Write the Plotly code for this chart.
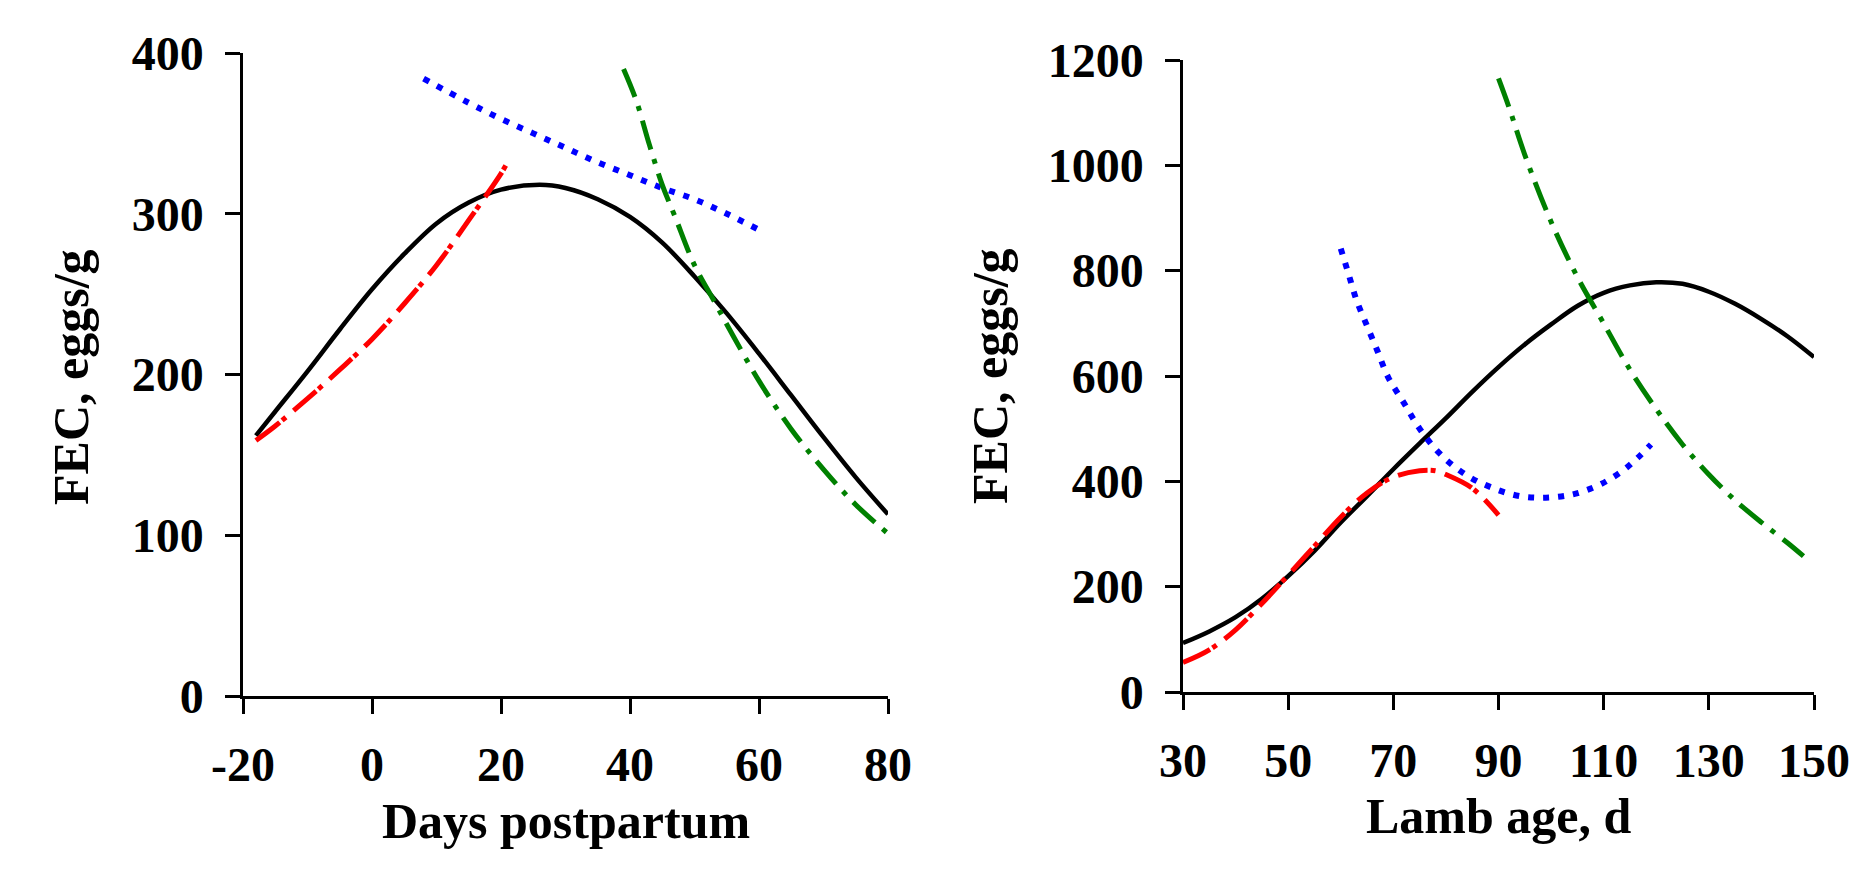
import plotly.graph_objects as go

# ---------------- Left panel: Days postpartum ----------------
left_black_x = [-18, -15, -10, -5, 0, 5, 10, 15, 20, 26, 30, 35, 40, 45, 50, 55, 60, 65, 70, 75, 80]
left_black_y = [162, 177, 202, 228, 253, 275, 294, 307, 315, 318, 316, 309, 298, 282, 261, 238, 213, 187, 161, 136, 113]

left_red_x = [-18, -15, -10, -5, 0, 5, 10, 15, 20, 21]
left_red_y = [159, 168, 185, 203, 222, 244, 268, 296, 325, 332]

left_blue_x = [8, 15, 20, 25, 30, 35, 40, 45, 50, 55, 60]
left_blue_y = [384, 369, 359, 350, 341, 332, 324, 316, 309, 300, 290]

left_green_x = [39, 41, 43, 45, 47, 50, 53, 56, 60, 65, 70, 75, 80]
left_green_y = [390, 370, 343, 318, 298, 268, 246, 224, 196, 166, 141, 119, 101]

left_xticks = [-20, 0, 20, 40, 60, 80]
left_xtext = ["-20", "0", "20", "40", "60", "80"]
left_yticks = [0, 100, 200, 300, 400]

# ---------------- Right panel: Lamb age ----------------
right_black_x = [30, 35, 40, 45, 50, 55, 60, 65, 70, 75, 80, 85, 90, 95, 100, 105, 110, 115, 120, 125, 130, 135, 140, 145, 150]
right_black_y = [93, 115, 142, 177, 220, 268, 322, 372, 423, 472, 520, 570, 617, 660, 698, 733, 758, 772, 778, 775, 760, 737, 708, 675, 636]

right_red_x = [30, 35, 40, 45, 50, 55, 60, 65, 70, 75, 78, 80, 85, 90]
right_red_y = [56, 80, 118, 168, 222, 277, 332, 378, 408, 420, 420, 413, 387, 336]

right_blue_x = [60, 61.5, 63, 65, 67, 69, 72, 75, 79, 84, 89, 94, 99, 104, 108, 111, 114, 116.5, 119]
right_blue_y = [842, 793, 744, 695, 647, 598, 549, 500, 451, 411, 387, 372, 369, 375, 388, 403, 423, 445, 470]

right_green_x = [90, 92, 95, 100, 105, 110, 115, 120, 125, 130, 135, 140, 145, 148]
right_green_y = [1165, 1110, 1020, 893, 788, 700, 612, 537, 470, 413, 364, 322, 283, 258]

right_xticks = [30, 50, 70, 90, 110, 130, 150]
right_yticks = [0, 200, 400, 600, 800, 1000, 1200]

BLACK = "#000000"
RED = "#FF0000"
BLUE = "#0000FF"
GREEN = "#008000"

DASH_RED = "30px,3px,5px,10px"
DASH_BLUE = "6px,9px"
DASH_GREEN = "30px,10px,5px,10px"

fig = go.Figure()


def add(x, y, color, dash, width, xa, ya):
    fig.add_trace(go.Scatter(
        x=x, y=y, mode="lines",
        line=dict(color=color, dash=dash, width=width, shape="spline", smoothing=1.0),
        xaxis=xa, yaxis=ya, showlegend=False, hoverinfo="skip"))


add(left_black_x, left_black_y, BLACK, "solid", 4.5, "x", "y")
add(left_red_x, left_red_y, RED, DASH_RED, 5, "x", "y")
add(left_blue_x, left_blue_y, BLUE, DASH_BLUE, 6, "x", "y")
add(left_green_x, left_green_y, GREEN, DASH_GREEN, 5, "x", "y")

add(right_black_x, right_black_y, BLACK, "solid", 4.5, "x2", "y2")
add(right_red_x, right_red_y, RED, DASH_RED, 5, "x2", "y2")
add(right_blue_x, right_blue_y, BLUE, DASH_BLUE, 6, "x2", "y2")
add(right_green_x, right_green_y, GREEN, DASH_GREEN, 5, "x2", "y2")

FONT = "Liberation Serif, Times New Roman, serif"
tickfont = dict(family=FONT, size=48, color="black", weight="bold")

common = dict(
    showline=True, linecolor="black", linewidth=2.5,
    ticks="outside", ticklen=15, tickwidth=2.5, tickcolor="black",
    showgrid=False, zeroline=False, tickfont=tickfont, automargin=False,
    ticklabeloverflow="allow",
)

W, H = 1851, 876

fig.update_layout(
    width=W, height=H,
    margin=dict(l=0, r=0, t=0, b=0, pad=0, autoexpand=False),
    paper_bgcolor="white", plot_bgcolor="white",
    xaxis=dict(domain=[243 / W, 888 / W], range=[-20, 80], tickmode="array",
               tickvals=left_xticks, ticktext=left_xtext, anchor="y", ticklabelstandoff=10, **common),
    yaxis=dict(domain=[1 - 696 / H, 1 - 53 / H], range=[0, 400], tickmode="array",
               tickvals=left_yticks, anchor="x", ticklabelstandoff=12, **common),
    xaxis2=dict(domain=[1183 / W, 1814 / W], range=[30, 150], tickmode="array",
                tickvals=right_xticks, anchor="y2", ticklabelstandoff=10, **common),
    yaxis2=dict(domain=[1 - 692 / H, 1 - 60 / H], range=[0, 1200], tickmode="array",
                tickvals=right_yticks, anchor="x2", ticklabelstandoff=12, **common),
)

titlefont = dict(family=FONT, size=50, color="black")
annots = [
    dict(text="<b>Days postpartum</b>", x=566 / W, y=1 - 821 / H, textangle=0),
    dict(text="<b>Lamb age, d</b>", x=1499 / W, y=1 - 816 / H, textangle=0),
    dict(text="<b>FEC, eggs/g</b>", x=71 / W, y=1 - 377 / H, textangle=-90),
    dict(text="<b>FEC, eggs/g</b>", x=990 / W, y=1 - 376 / H, textangle=-90),
]
for a in annots:
    fig.add_annotation(xref="paper", yref="paper", xanchor="center", yanchor="middle",
                       showarrow=False, font=titlefont, **a)

fig.write_html(
    "out.html",
    config={"displayModeBar": False},
    post_script="document.body.style.margin='0px';document.body.style.overflow='hidden';",
)
